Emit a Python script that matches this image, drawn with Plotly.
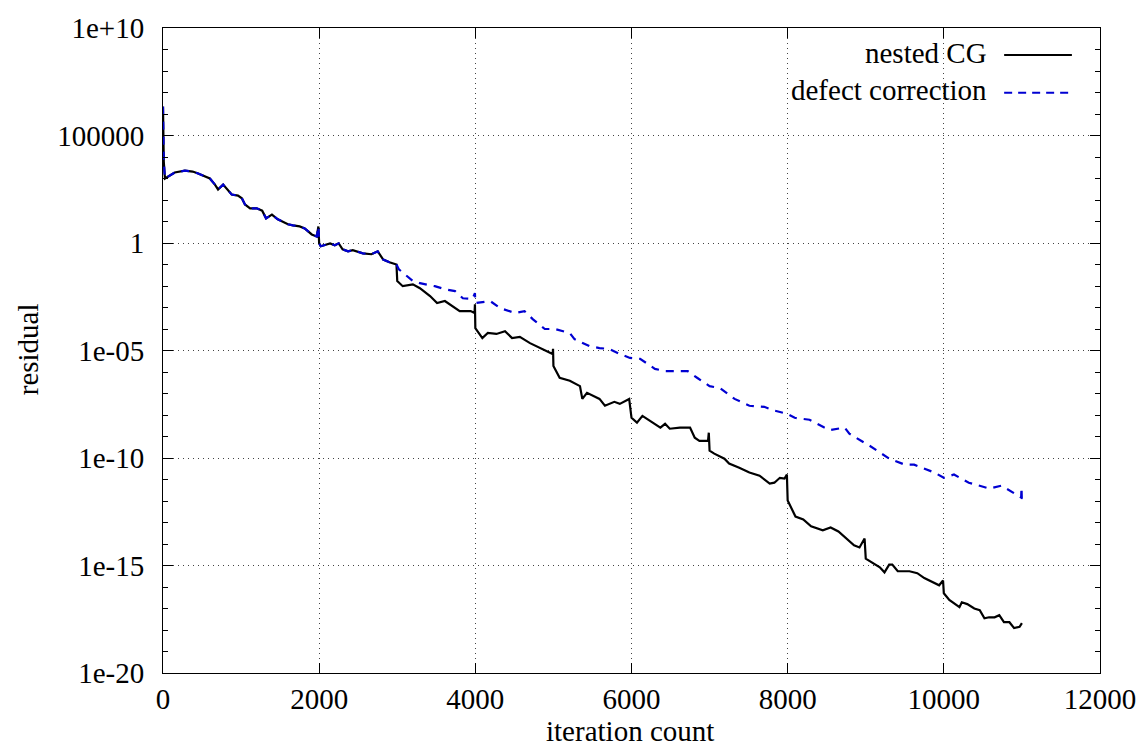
import plotly.graph_objects as go

# ---- data ----
# shared part of both runs (curves coincide up to ~3000 iterations)
early_iter = [0, 10, 25, 65, 150, 280, 380, 450, 540, 600,
              665, 705, 770, 830, 880, 960, 1010, 1050, 1115, 1200,
              1270, 1320, 1395, 1470, 1535, 1600, 1665, 1750, 1815, 1905,
              1970, 1990, 2000, 2020, 2140, 2200, 2250, 2300, 2370, 2430,
              2560, 2670, 2750, 2820, 2900, 2990]
early_res = [2.2e6, 6.2e3, 1.0e3, 1.2e3, 1.9e3, 2.3e3, 2.1e3, 1.7e3, 1.2e3, 1.0e3,
             5.2e2, 3.1e2, 5.2e2, 3.1e2, 1.8e2, 1.6e2, 1.2e2, 62, 41, 41,
             32, 14, 21, 12.6, 10, 7.4, 6.6, 5.9, 4.8, 2.5,
             2.0, 5.9, 0.96, 0.71, 0.96, 0.78, 0.96, 0.51, 0.41, 0.46,
             0.33, 0.30, 0.41, 0.17, 0.126, 0.10]

cg_iter_tail = [3000, 3070, 3200, 3290, 3420, 3510, 3610, 3710, 3800, 3940,
                3990, 3995, 4000, 4090, 4160, 4270, 4380, 4470, 4570, 4700,
                4830, 4950, 4990, 4995, 5000, 5080, 5210, 5340, 5370, 5430,
                5590, 5660, 5780, 5850, 5970, 6000, 6070, 6140, 6240, 6370,
                6430, 6490, 6620, 6750, 6810, 6870, 6980, 6990, 7000, 7060,
                7190, 7250, 7380, 7510, 7640, 7770, 7830, 7900, 7960, 7990,
                8000, 8050, 8100, 8200, 8300, 8450, 8550, 8650, 8750, 8850,
                8920, 8985, 9000, 9090, 9180, 9240, 9300, 9340, 9410, 9560,
                9660, 9750, 9880, 9940, 9990, 10000, 10070, 10200, 10230, 10300,
                10390, 10460, 10520, 10580, 10650, 10710, 10770, 10840, 10900, 10970,
                11000]
cg_res_tail = [1.7e-2, 9.8e-3, 1.2e-2, 7.9e-3, 3.4e-3, 1.6e-3, 2.0e-3, 1.15e-3, 6.8e-4, 6.8e-4,
               5.5e-4, 1.4e-3, 1.1e-4, 3.8e-5, 6.5e-5, 5.9e-5, 7.9e-5, 3.8e-5, 4.3e-5, 2.2e-5,
               1.3e-5, 7.6e-6, 6.9e-6, 1.2e-5, 1.9e-6, 5.4e-7, 3.9e-7, 2.2e-7, 5.6e-8, 1.07e-7,
               5.6e-8, 2.7e-8, 4.1e-8, 3.3e-8, 5.6e-8, 7.4e-9, 4.4e-9, 9.1e-9, 5.4e-9, 2.6e-9,
               3.9e-9, 2.3e-9, 2.6e-9, 2.6e-9, 8.7e-10, 6.3e-10, 6.3e-10, 1.5e-9, 2.2e-10, 1.6e-10,
               9.3e-11, 5.5e-11, 3.5e-11, 2.1e-11, 1.5e-11, 6.5e-12, 7.1e-12, 1.2e-11, 1.1e-11, 1.7e-11,
               1.05e-12, 4.5e-13, 1.9e-13, 1.4e-13, 6.6e-14, 4.3e-14, 5.9e-14, 3.8e-14, 1.8e-14, 8.7e-15,
               6.9e-15, 1.8e-14, 2.1e-15, 1.26e-15, 8.3e-16, 4.8e-16, 1.1e-15, 1.1e-15, 5.4e-16, 5.4e-16,
               4.4e-16, 2.6e-16, 1.5e-16, 1.2e-16, 2.0e-16, 5.1e-17, 2.5e-17, 1.15e-17, 1.95e-17, 1.6e-17,
               1.0e-17, 8.3e-18, 3.5e-18, 3.9e-18, 3.9e-18, 4.9e-18, 2.3e-18, 2.3e-18, 1.23e-18, 1.4e-18,
               2.1e-18]

dc_iter_tail = [3020, 3200, 3290, 3480, 3610, 3740, 3840, 3965, 3995, 4000,
                4190, 4320, 4510, 4630, 4735, 4890, 5020, 5210, 5270, 5460,
                5590, 5720, 5850, 5980, 6110, 6300, 6430, 6720, 6840, 7000,
                7130, 7320, 7510, 7700, 7830, 7990, 8090, 8280, 8470, 8540,
                8730, 8790, 8940, 9050, 9300, 9500, 9620, 9880, 10000, 10130,
                10320, 10580, 10740, 10900, 10990, 10995, 11000]
dc_res_tail = [6.0e-2, 1.7e-2, 1.35e-2, 9.8e-3, 7.1e-3, 5.8e-3, 2.7e-3, 2.5e-3, 4.7e-3, 1.6e-3,
               2.0e-3, 9.3e-4, 5.5e-4, 6.8e-4, 2.9e-4, 1.0e-4, 1.0e-4, 6.5e-5, 3.4e-5, 1.6e-5,
               1.3e-5, 1.17e-5, 6.9e-6, 4.5e-6, 4.1e-6, 1.4e-6, 1.1e-6, 1.1e-6, 5.4e-7, 2.2e-7,
               1.8e-7, 5.6e-8, 2.7e-8, 2.4e-8, 1.6e-8, 1.15e-8, 7.4e-9, 6.0e-9, 2.6e-9, 2.0e-9,
               2.6e-9, 1.35e-9, 6.3e-10, 3.7e-10, 9.3e-11, 4.9e-11, 4.9e-11, 2.1e-11, 1.2e-11, 1.7e-11,
               7.1e-12, 3.8e-12, 5.2e-12, 2.2e-12, 1.45e-12, 4.3e-12, 7.6e-13]

series_names = ["nested CG", "defect correction"]
x_tickvals = [0, 2000, 4000, 6000, 8000, 10000, 12000]
x_ticktext = ["0", "2000", "4000", "6000", "8000", "10000", "12000"]
y_tickvals = [1e10, 1e5, 1, 1e-5, 1e-10, 1e-15, 1e-20]
y_ticktext = ["1e+10", "100000", "1", "1e-05", "1e-10", "1e-15", "1e-20"]

FONT = "Times New Roman, Liberation Serif, DejaVu Serif, serif"
FS = 29
BLUE = "rgb(0,0,210)"

fig = go.Figure()
fig.add_trace(go.Scatter(x=early_iter + cg_iter_tail, y=early_res + cg_res_tail,
                         mode="lines", name=series_names[0],
                         line=dict(color="black", width=2.2)))
fig.add_trace(go.Scatter(x=early_iter + dc_iter_tail, y=early_res + dc_res_tail,
                         mode="lines", name=series_names[1],
                         line=dict(color=BLUE, width=2.2, dash="8px,7px")))

minor_y = [10.0 ** k for k in range(-19, 10) if k % 5 != 0]

axis_common = dict(showline=True, linecolor="black", linewidth=1, mirror="allticks",
                   ticks="inside", tickcolor="black", tickwidth=1, ticklen=10,
                   showgrid=True, gridcolor="#444444", griddash="1px,4px", gridwidth=1,
                   zeroline=False, tickfont=dict(family=FONT, size=FS, color="black"))

fig.update_xaxes(range=[0, 12000], tickmode="array", tickvals=x_tickvals,
                 ticktext=x_ticktext, ticklabelstandoff=0, **axis_common)
fig.update_yaxes(type="log", range=[-20, 10], tickmode="array", tickvals=y_tickvals,
                 ticktext=y_ticktext, ticklabelstandoff=12,
                 minor=dict(tickmode="array", tickvals=minor_y, ticks="inside",
                            ticklen=5, tickcolor="black", showgrid=False),
                 **axis_common)

fig.update_layout(
    width=1148, height=749, autosize=False,
    margin=dict(l=163, r=47, t=26, b=76),
    plot_bgcolor="white", paper_bgcolor="white",
    showlegend=False,
    font=dict(family=FONT, size=FS, color="black"),
)

# axis titles
fig.add_annotation(text="iteration count", xref="paper", yref="paper",
                   x=0.498, y=-0.090, xanchor="center", yanchor="middle",
                   showarrow=False, font=dict(family=FONT, size=FS))
fig.add_annotation(text="residual", xref="paper", yref="paper",
                   x=-0.144, y=0.502, xanchor="center", yanchor="middle",
                   textangle=-90, showarrow=False, font=dict(family=FONT, size=FS))

# gnuplot-style key: text on the left, sample on the right
key_rows = [(series_names[0], 0.961, 0.958, "black", "solid"),
            (series_names[1], 0.904, 0.8995, BLUE, "8px,6px")]
for label, ty, ly, col, dash in key_rows:
    fig.add_annotation(text=label, xref="paper", yref="paper", x=0.8817, y=ty,
                       xanchor="right", yanchor="middle", showarrow=False,
                       font=dict(family=FONT, size=FS))
    fig.add_shape(type="line", xref="paper", yref="paper", x0=0.8977, x1=0.970,
                  y0=ly, y1=ly, line=dict(color=col, width=2, dash=dash))

fig.write_html("out.html")
